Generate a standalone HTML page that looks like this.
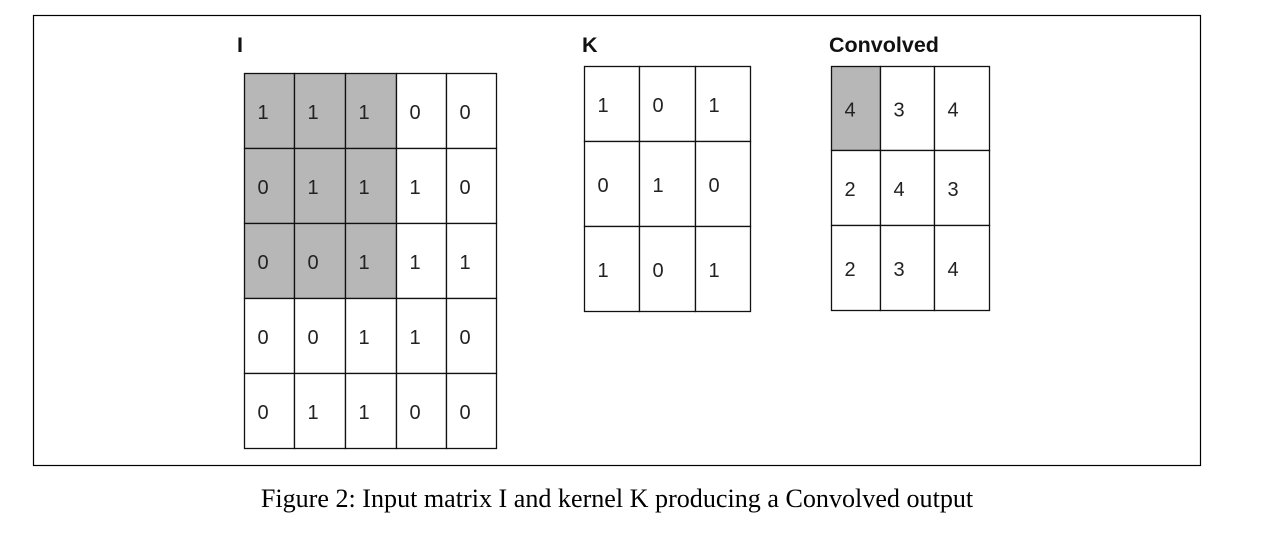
<!DOCTYPE html>
<html><head><meta charset="utf-8"><style>
html,body{margin:0;padding:0;background:#fff;width:1283px;height:540px;overflow:hidden}
svg{display:block}
.lab{font-family:"Liberation Sans",sans-serif;font-weight:bold;font-size:21.5px;fill:#111}
.num{font-family:"Liberation Sans",sans-serif;font-size:20px;fill:#222}
.cap{font-family:"Liberation Serif",serif;font-size:26.1px;fill:#000}
</style></head><body>
<svg width="1283" height="540">
<rect x="33.5" y="15.5" width="1167" height="450" fill="none" stroke="#000" stroke-width="1.2"/>
<text class="lab" x="237" y="52">I</text>
<text class="lab" x="582" y="52">K</text>
<text class="lab" x="829" y="52">Convolved</text>
<g id="grids"></g>
<text class="cap" x="617" y="507" text-anchor="middle">Figure 2: Input matrix I and kernel K producing a Convolved output</text>
</svg>
<script>
const matI=[[1,1,1,0,0],[0,1,1,1,0],[0,0,1,1,1],[0,0,1,1,0],[0,1,1,0,0]];
const shadeI=[[1,1,1,0,0],[1,1,1,0,0],[1,1,1,0,0],[0,0,0,0,0],[0,0,0,0,0]];
const matK=[[1,0,1],[0,1,0],[1,0,1]];
const matC=[[4,3,4],[2,4,3],[2,3,4]];
const shadeC=[[1,0,0],[0,0,0],[0,0,0]];
const NS="http://www.w3.org/2000/svg";
const g=document.getElementById('grids');
function grid(name,m,sh,xs,ys){
  const grp=document.createElementNS(NS,'g');
  
  
  g.appendChild(grp);
  for(let r=0;r<m.length;r++)for(let c=0;c<m[r].length;c++){
    const x=xs[c],y=ys[r],w=xs[c+1]-xs[c],h=ys[r+1]-ys[r];
    const rect=document.createElementNS(NS,'rect');
    rect.setAttribute('x',x);rect.setAttribute('y',y);rect.setAttribute('width',w);rect.setAttribute('height',h);
    rect.setAttribute('fill',sh&&sh[r][c]?'#b7b7b7':'#fff');
    rect.setAttribute('stroke','#111');rect.setAttribute('stroke-width','1.3');
    
    
    grp.appendChild(rect);
    const t=document.createElementNS(NS,'text');
    t.setAttribute('class','num');t.setAttribute('x',x+13);t.setAttribute('y',y+h/2+8);
    t.textContent=m[r][c];
    
    
    grp.appendChild(t);
  }
}
grid('input-matrix-i',matI,shadeI,[244.5,294.5,345.5,396.5,446.5,496.5],[73.5,148.5,223.5,298.5,373.5,448.5]);
grid('kernel-k',matK,null,[584.5,639.5,695.5,750.5],[66.5,141.5,226.5,311.5]);
grid('convolved-output',matC,shadeC,[831.5,880.5,934.5,989.5],[66.5,150.5,225.5,310.5]);
</script>
</body></html>
